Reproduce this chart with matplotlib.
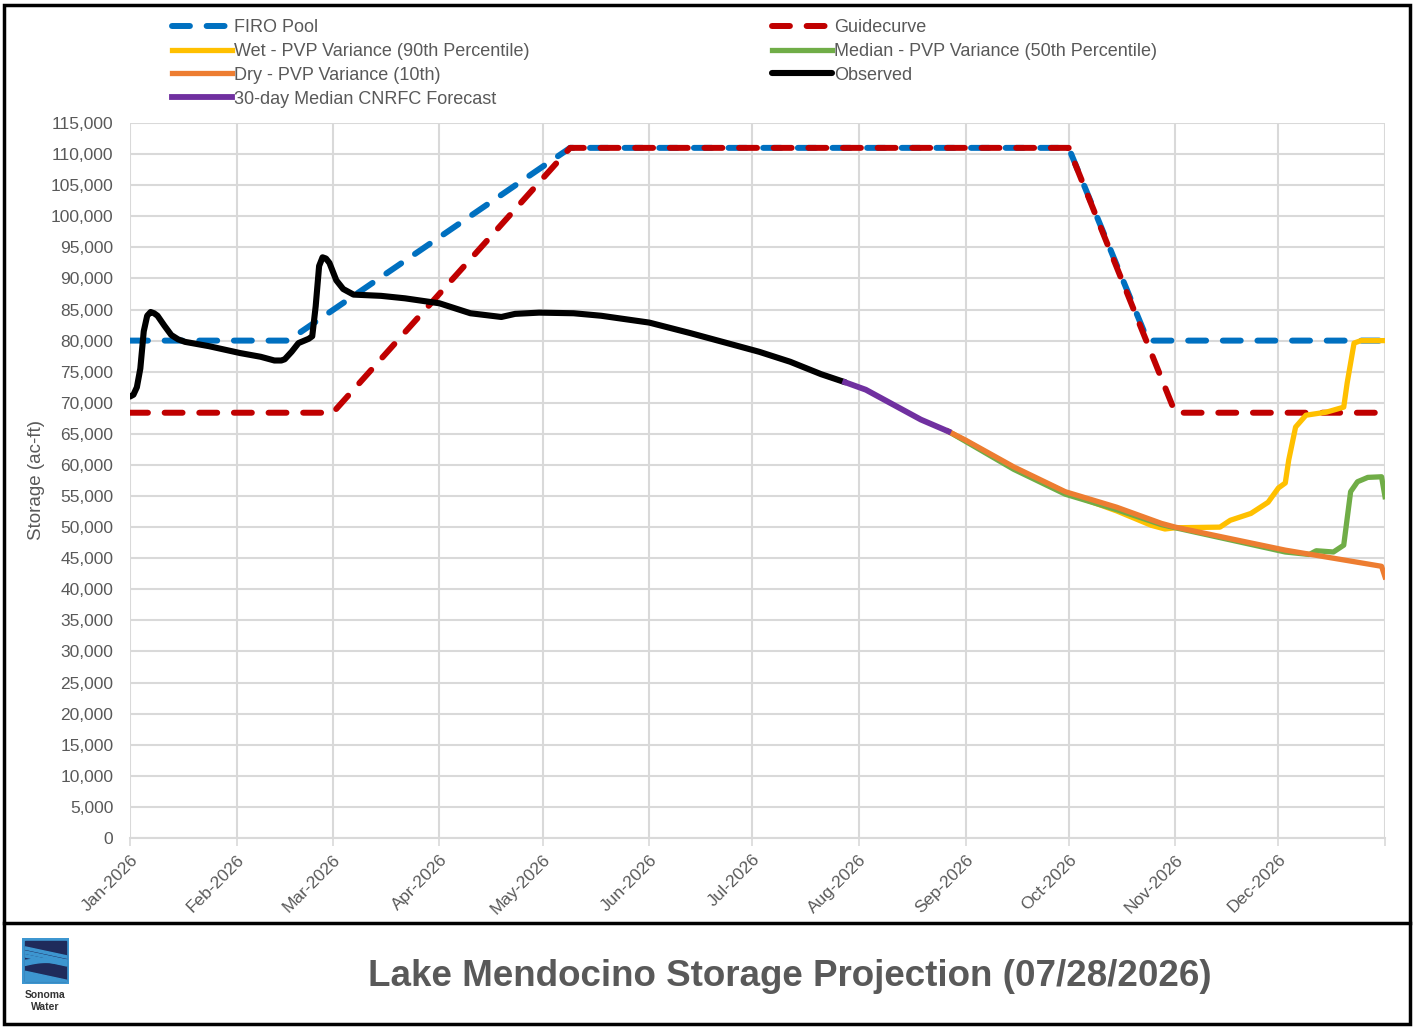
import numpy as np
import matplotlib
matplotlib.use("Agg")
import matplotlib.pyplot as plt
from matplotlib.ticker import FuncFormatter
from matplotlib.patches import Rectangle
from matplotlib.lines import Line2D

plt.rcParams['font.family'] = ['Liberation Sans', 'DejaVu Sans']

# days counted from 01-Jan-2026
start = np.datetime64('2026-01-01')

firo_day = [0, 46, 128, 273, 296, 365]
firo_val = [80000, 80000, 111000, 111000, 80000, 80000]

guide_day = [0, 59, 128, 273, 304, 365]
guide_val = [68400, 68400, 111000, 111000, 68400, 68400]

obs_day = [0, 1, 2, 3, 4, 5, 6, 7, 8, 10, 12, 14, 16, 23, 32, 38, 42, 44, 45, 47, 49, 52, 53,
           54, 55, 56, 57, 58, 60, 62, 65, 73, 80, 90, 99, 105, 108, 112, 119, 129, 137,
           151, 163, 175, 183, 192, 201, 208]
obs_val = [71000, 71300, 72500, 75500, 81500, 84000, 84600, 84400, 84000, 82400, 80900, 80200,
           79800, 79100, 78000, 77400, 76800, 76800, 77000, 78200, 79600, 80300, 80700,
           85500, 92000, 93400, 93200, 92500, 89700, 88300, 87400, 87200, 86800, 86000,
           84400, 84000, 83800, 84300, 84500, 84400, 84000, 82900, 81200, 79400, 78200,
           76600, 74600, 73300]

cnrfc_day = [208, 214, 218, 224, 230, 238]
cnrfc_val = [73300, 72100, 70900, 69100, 67300, 65400]

wet_day = [238, 243, 257, 272, 287, 297, 301, 304, 317, 320, 326, 331, 334, 336, 337,
           339, 342, 348, 353, 354, 356, 358, 365]
wet_val = [65400, 63900, 59500, 55600, 52600, 50300, 49700, 49900, 50000, 51100, 52200,
           54000, 56300, 57100, 60800, 66100, 68000, 68500, 69300, 73200, 79600, 80000, 80000]

med_day = [238, 243, 257, 272, 287, 300, 304, 336, 343, 345, 350, 353, 355, 357, 360, 364, 365]
med_val = [65400, 63800, 59300, 55300, 52800, 50400, 49900, 46000, 45600, 46200, 46000,
           47100, 55700, 57300, 58000, 58100, 54900]

dry_day = [238, 243, 257, 272, 287, 300, 304, 336, 364, 365]
dry_val = [65400, 64000, 59700, 55700, 53200, 50600, 50000, 46300, 43700, 42000]

month_labels = ['Jan-2026', 'Feb-2026', 'Mar-2026', 'Apr-2026', 'May-2026', 'Jun-2026',
                'Jul-2026', 'Aug-2026', 'Sep-2026', 'Oct-2026', 'Nov-2026', 'Dec-2026', '']


def to_dates(days):
    return start + np.array(days).astype('timedelta64[D]')


grey = '#595959'
fig = plt.figure(figsize=(14.15, 10.30), dpi=100)
ax = fig.add_axes([130 / 1415, 1 - 838 / 1030, 1255 / 1415, 715 / 1030])

dash = (3.0, 2.8)
ax.plot(to_dates(firo_day), firo_val, color='#0070C0', lw=4.3, ls=(0, dash),
        dash_capstyle='round', label='FIRO Pool', zorder=3)
ax.plot(to_dates(guide_day), guide_val, color='#C00000', lw=4.3, ls=(0, dash),
        dash_capstyle='round', label='Guidecurve', zorder=4)
ax.plot(to_dates(wet_day), wet_val, color='#FFC000', lw=3.8,
        label='Wet - PVP Variance (90th Percentile)', zorder=5)
ax.plot(to_dates(med_day), med_val, color='#70AD47', lw=3.8,
        label='Median - PVP Variance (50th Percentile)', zorder=6)
ax.plot(to_dates(dry_day), dry_val, color='#ED7D31', lw=3.8,
        label='Dry - PVP Variance (10th)', zorder=7)
ax.plot(to_dates(obs_day), obs_val, color='black', lw=4.4, solid_capstyle='round',
        solid_joinstyle='round', label='Observed', zorder=8)
ax.plot(to_dates(cnrfc_day), cnrfc_val, color='#7030A0', lw=4.2,
        label='30-day Median CNRFC Forecast', zorder=8)

ticks = [np.datetime64('2026-%02d-01' % m) for m in range(1, 13)] + [np.datetime64('2027-01-01')]
ax.set_xlim(ticks[0], ticks[-1])
ax.set_ylim(0, 115000)
ax.set_xticks(ticks)
ax.set_xticklabels(month_labels, rotation=45, ha='right', rotation_mode='anchor',
                   fontsize=12.5, color=grey)
ax.set_yticks(np.arange(0, 115001, 5000))
ax.yaxis.set_major_formatter(FuncFormatter(lambda v, p: f'{int(v):,}'))
ax.tick_params(axis='y', length=0, labelsize=12.5, labelcolor=grey, pad=12)
ax.tick_params(axis='x', length=6, width=1.2, color='#D9D9D9', pad=4)
ax.grid(True, color='#D9D9D9', lw=1.5)
for s in ['top', 'right', 'left']:
    ax.spines[s].set_visible(False)
ax.spines['bottom'].set_color('#D9D9D9')
ax.spines['bottom'].set_linewidth(1.5)
ax.set_axisbelow(True)
ax.set_ylabel('Storage (ac-ft)', fontsize=13.5, color=grey, labelpad=4)

h, l = ax.get_legend_handles_labels()
order1 = [0, 2, 4, 6]
order2 = [1, 3, 5]
kw = dict(frameon=False, fontsize=13, labelcolor=grey, handlelength=3.3,
          handletextpad=0.15, labelspacing=0.38, borderpad=0, borderaxespad=0,
          loc='upper left')
fig.legend([h[i] for i in order1], [l[i] for i in order1],
           bbox_to_anchor=(172 / 1415, 1 - 19 / 1030), **kw)
fig.legend([h[i] for i in order2], [l[i] for i in order2],
           bbox_to_anchor=(772 / 1415, 1 - 19 / 1030), **kw)

# outer frame and footer divider
fig.add_artist(Rectangle((4 / 1415, 6 / 1030), 1406 / 1415, 1019 / 1030, fill=False,
                         ec='black', lw=2.5, transform=fig.transFigure))
fig.add_artist(Line2D([4 / 1415, 1410 / 1415], [1 - 923 / 1030, 1 - 923 / 1030],
                      color='black', lw=2.5, transform=fig.transFigure))

fig.text(790 / 1415, 1 - 976 / 1030, 'Lake Mendocino Storage Projection (07/28/2026)',
         ha='center', va='center', fontsize=26.5, fontweight='bold', color=grey)

# Sonoma Water logo
lg = fig.add_axes([22 / 1415, 1 - 984 / 1030, 47 / 1415, 46 / 1030])
lg.set_xlim(0, 1)
lg.set_ylim(0, 1)
lg.axis('off')
lg.add_patch(Rectangle((0, 0), 1, 1, color='#3D96D0'))
lg.add_patch(Rectangle((0.06, 0.06), 0.88, 0.88, color='#1F2B5B'))
xx = np.linspace(0.06, 0.94, 50)
for off in [0.0, 0.09, 0.17]:
    lg.fill_between(xx, 0.78 - off - 0.22 * xx, 0.83 - off - 0.22 * xx, color='#3D96D0')
lg.fill_between(xx, 0.40 + 0.08 * np.sin(np.pi * xx), 0.52 + 0.04 * np.sin(np.pi * xx),
                color='#3D96D0')
lg.fill_between(xx, 0.06, 0.30 - 0.22 * xx, color='#3D96D0')
fig.text(45 / 1415, 1 - 995 / 1030, 'Sonoma', ha='center', va='center', fontsize=7.5,
         fontweight='bold', color='#333333')
fig.text(45 / 1415, 1 - 1007 / 1030, 'Water', ha='center', va='center', fontsize=7.5,
         fontweight='bold', color='#333333')

fig.savefig('out.png', dpi=100)
